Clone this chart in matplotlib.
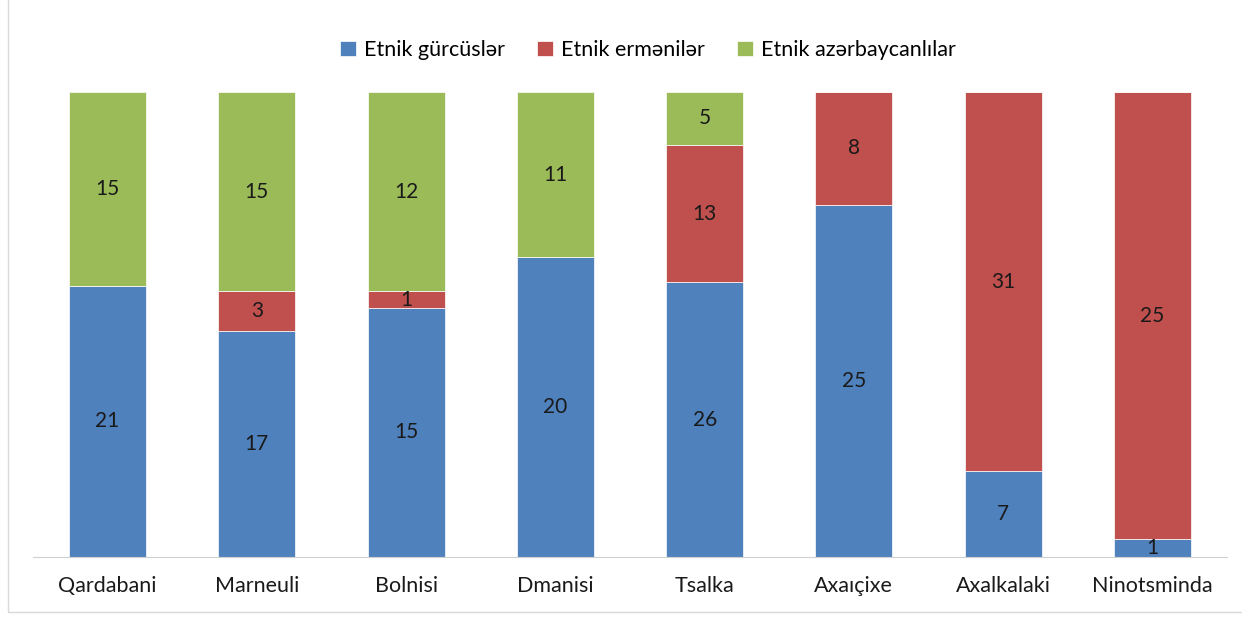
import numpy as np
import matplotlib.pyplot as plt
from matplotlib.patches import Rectangle

plt.rcParams['font.family'] = ['Lato', 'DejaVu Sans']

regions = ['Qardabani', 'Marneuli', 'Bolnisi', 'Dmanisi', 'Tsalka',
           'Axaıçixe', 'Axalkalaki', 'Ninotsminda']
georgians = [21, 17, 15, 20, 26, 25, 7, 1]
armenians = [0, 3, 1, 0, 13, 8, 31, 25]
azerbaijanis = [15, 15, 12, 11, 5, 0, 0, 0]
series_names = ['Etnik gürcüslər', 'Etnik ermənilər', 'Etnik azərbaycanlılar']
colors = ['#4F81BD', '#C0504D', '#9BBB59']

data = np.array([georgians, armenians, azerbaijanis], dtype=float)
shares = data / data.sum(axis=0)

fig = plt.figure(figsize=(12.42, 6.19), dpi=100)
ax = fig.add_axes([33 / 1242, 1 - 557 / 619, 1194 / 1242, 465 / 619])

x = np.arange(len(regions))
bottom = np.zeros(len(regions))
for i in range(3):
    bars = ax.bar(x, shares[i], 0.516, bottom=bottom, color=colors[i],
                  label=series_names[i], edgecolor='white', linewidth=0.5)
    for j, b in enumerate(bars):
        if data[i, j] > 0:
            ax.text(b.get_x() + b.get_width() / 2, bottom[j] + shares[i, j] / 2,
                    '%d' % data[i, j], ha='center', va='center',
                    fontsize=15, color='#1a1a1a')
    bottom += shares[i]

ax.set_xlim(-0.5, len(regions) - 0.5)
ax.set_ylim(0, 1)
ax.set_xticks(x)
ax.set_xticklabels(regions, fontsize=15.5, color='#1a1a1a')
ax.tick_params(axis='x', length=0, pad=14)
ax.set_yticks([])
for s in ['top', 'right', 'left']:
    ax.spines[s].set_visible(False)
ax.spines['bottom'].set_color('#d0d0d0')

ax.legend(loc='center', bbox_to_anchor=(0.515, (619 - 50 - 62) / 465),
          ncol=3, frameon=False, fontsize=15.5, handlelength=0.75,
          handleheight=0.75, columnspacing=1.5, handletextpad=0.35)

fig.patches.append(Rectangle((8 / 1242, 7 / 619), 1.2, 1.2,
                             transform=fig.transFigure, fill=False,
                             edgecolor='#d9d9d9', linewidth=1))

fig.savefig('out.png', dpi=100)
